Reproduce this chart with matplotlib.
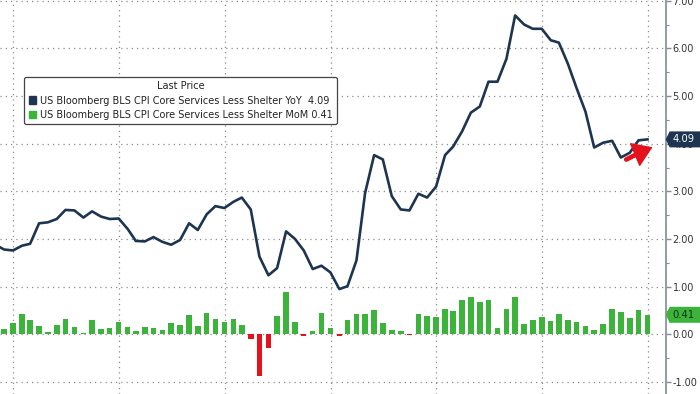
import matplotlib
matplotlib.use('Agg')
import matplotlib.pyplot as plt
import matplotlib.dates as mdates
import matplotlib.transforms as mtransforms
from matplotlib.patches import Patch
from matplotlib.path import Path
from matplotlib.ticker import MultipleLocator, FormatStrFormatter
import pandas as pd

# monthly data, month-end dates (first point is clipped at the left edge)
dates = pd.date_range('2017-10-31', periods=75, freq='ME')

yoy = [1.88, 1.78, 1.76, 1.86, 1.90, 2.33, 2.35, 2.42, 2.61, 2.60, 2.45, 2.58, 2.47, 2.42,
       2.43, 2.21, 1.96, 1.95, 2.04, 1.94, 1.88, 1.98, 2.33, 2.19, 2.52, 2.69,
       2.65, 2.78, 2.87, 2.62, 1.63, 1.24, 1.39, 2.16, 2.00, 1.76, 1.37, 1.44, 1.30, 0.95,
       1.01, 1.55, 2.97, 3.76, 3.67, 2.90, 2.62, 2.60, 2.95, 2.87, 3.10, 3.76,
       3.94, 4.26, 4.65, 4.78, 5.30, 5.30, 5.78, 6.69, 6.50, 6.41, 6.41, 6.17, 6.12,
       5.68, 5.17, 4.67, 3.92, 4.02, 4.06, 3.71, 3.81, 4.07, 4.09]

mom = [0.15, 0.11, 0.23, 0.42, 0.30, 0.17, 0.06, 0.20, 0.33, 0.16, 0.03, 0.30, 0.12, 0.13,
       0.26, 0.15, 0.08, 0.15, 0.13, 0.10, 0.24, 0.19, 0.40, 0.17, 0.44, 0.33,
       0.25, 0.33, 0.19, -0.10, -0.87, -0.28, 0.38, 0.89, 0.26, -0.03, 0.07, 0.44, 0.13, -0.03,
       0.30, 0.43, 0.42, 0.52, 0.24, 0.10, 0.07, -0.02, 0.42, 0.39, 0.37, 0.53,
       0.50, 0.72, 0.79, 0.68, 0.73, 0.13, 0.53, 0.79, 0.22, 0.30, 0.36, 0.27, 0.43,
       0.31, 0.26, 0.17, 0.10, 0.22, 0.53, 0.47, 0.35, 0.51, 0.41]

label_yoy = 'US Bloomberg BLS CPI Core Services Less Shelter YoY'
label_mom = 'US Bloomberg BLS CPI Core Services Less Shelter MoM'

navy = '#1d3551'
green = '#3cb43c'
red = '#e3121b'


def tag_box(x0, y0, width, height, mutation_size):
    "price tag shape: box with a pointer on the left, open to the right"
    pad = 0.3 * mutation_size
    x0, y0 = x0 - pad, y0 - pad
    h = height + 2 * pad
    x1 = x0 + width + 2 * pad + 60
    tip = 0.25 * h
    verts = [(x0, y0), (x1, y0), (x1, y0 + h), (x0, y0 + h), (x0 - tip, y0 + h / 2), (x0, y0)]
    codes = [Path.MOVETO] + [Path.LINETO] * 4 + [Path.CLOSEPOLY]
    return Path(verts, codes)


fig = plt.figure(figsize=(7.0, 3.94), dpi=100)
ax = fig.add_axes([0, 0, 665.7 / 700, 1])

bar_colors = [green if v >= 0 else red for v in mom]
ax.bar(dates, mom, width=19, color=bar_colors, zorder=3)
ax.plot(dates, yoy, color=navy, linewidth=1.9, zorder=4)

ax.set_xlim(pd.Timestamp('2017-11-16'), pd.Timestamp('2024-03-03'))
ax.set_ylim(-1.251, 7.014)

# axis decorations, Bloomberg style
ax.xaxis.set_major_locator(mdates.YearLocator())
ax.tick_params(axis='x', which='both', bottom=False, labelbottom=False)
ax.yaxis.tick_right()
ax.yaxis.set_major_locator(MultipleLocator(1))
ax.yaxis.set_minor_locator(MultipleLocator(0.5))
ax.yaxis.set_major_formatter(FormatStrFormatter('%.2f'))
ax.tick_params(axis='y', which='major', direction='out', length=3.5, width=1,
               color='#7f8c99', labelsize=7, labelcolor='#333333', pad=1.5)
ax.tick_params(axis='y', which='minor', direction='out', length=2, width=0.8, color='#7f8c99')
for s in ['left', 'top', 'bottom']:
    ax.spines[s].set_visible(False)
ax.spines['right'].set_color('#7f8c99')
ax.spines['right'].set_linewidth(1.2)
ax.grid(True, which='major', color='#8c8c8c', linestyle=(0, (1, 3.2)), linewidth=0.9, zorder=0)

# last value tags on the right axis
trans = mtransforms.blended_transform_factory(ax.transAxes, ax.transData)
ax.text(1.0105, yoy[-1], '%.2f' % yoy[-1], transform=trans, ha='left', va='center',
        fontsize=7.2, color='white', clip_on=False, zorder=6,
        bbox=dict(boxstyle=tag_box, fc=navy, ec='none'))
ax.text(1.0105, mom[-1], '%.2f' % mom[-1], transform=trans, ha='left', va='center',
        fontsize=7.2, color='#10300f', clip_on=False, zorder=6,
        bbox=dict(boxstyle=tag_box, fc=green, ec='none'))

# legend
handles = [Patch(color=navy), Patch(color=green)]
labels = ['%s  %.2f' % (label_yoy, yoy[-1]), '%s %.2f' % (label_mom, mom[-1])]
leg = ax.legend(handles, labels, title='Last Price', loc='upper left',
                bbox_to_anchor=(0.0365, 0.805), fontsize=7, title_fontsize=7,
                frameon=True, fancybox=True, framealpha=1, edgecolor='#444444',
                borderpad=0.45, handlelength=0.8, handleheight=0.8, handletextpad=0.35,
                labelspacing=0.45, borderaxespad=0)
leg.get_frame().set_linewidth(0.9)
leg.set_zorder(7)
for t in leg.get_texts():
    t.set_color('#222222')
leg.get_title().set_color('#222222')

# red dashed arrow pointing at the latest reading
ax.annotate('', xy=(0.963, 0.614), xytext=(0.937, 0.592), xycoords='axes fraction',
            arrowprops=dict(arrowstyle='-', color=red, linewidth=3.4,
                            linestyle=(0, (2.6, 1.2))), zorder=8)
ax.annotate('', xy=(0.984, 0.629), xytext=(0.960, 0.612), xycoords='axes fraction',
            arrowprops=dict(arrowstyle='-|>,head_length=0.9,head_width=0.6', color=red,
                            linewidth=1, mutation_scale=14), zorder=8)

plt.savefig('out.png', dpi=100)
